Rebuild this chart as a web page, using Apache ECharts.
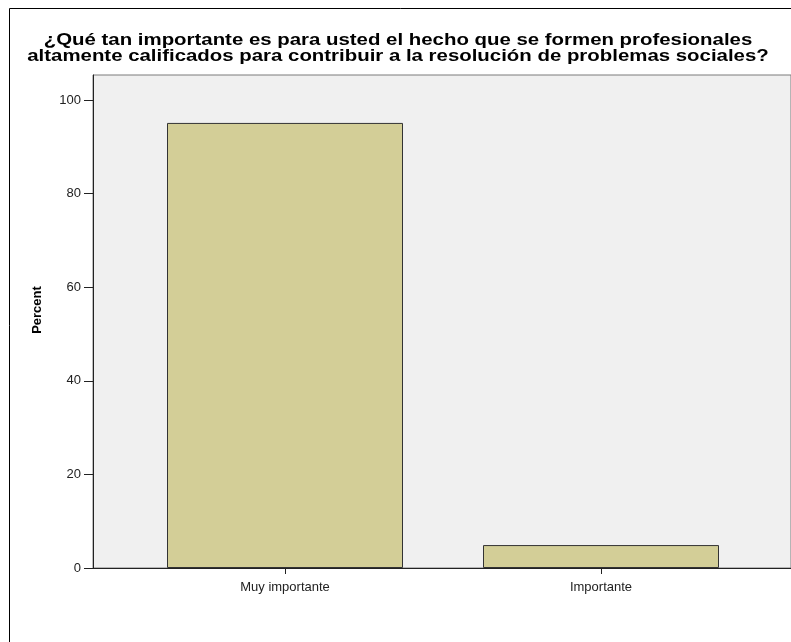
<!DOCTYPE html>
<html>
<head>
<meta charset="utf-8">
<script src="https://cdn.jsdelivr.net/npm/echarts@6/dist/echarts.min.js"></script>
<style>
  html, body { margin: 0; padding: 0; background: #fff; }
  #chart { width: 791px; height: 642px; }
</style>
</head>
<body>
<div id="chart"></div>
<script>
// datos del gráfico
const titleLines = [
  '¿Qué tan importante es para usted el hecho que se formen profesionales',
  'altamente calificados para contribuir a la resolución de problemas sociales?'
];
const categories = ['Muy importante', 'Importante'];
const percents = [95.1, 4.9];
const yTicks = { min: 0, max: 100, interval: 20 };

const FONT = '"Liberation Sans", Arial, sans-serif';
const chart = echarts.init(document.getElementById('chart'));

const option = {
  backgroundColor: '#ffffff',
  animation: false,
  graphic: [
    // marco exterior
    {
      type: 'rect',
      shape: { x: 9.5, y: 8.5, width: 800, height: 700 },
      style: { fill: 'none', stroke: '#000', lineWidth: 1 },
      z: 0
    },
    // título (texto algo ensanchado como en SPSS)
    {
      type: 'text',
      x: 398,
      y: 33,
      scaleX: 1.2,
      style: {
        text: titleLines.join('\n'),
        font: 'bold 17px ' + FONT,
        lineHeight: 15.5,
        fill: '#000',
        align: 'center',
        verticalAlign: 'top'
      }
    },
    {
      type: 'text',
      x: 37,
      y: 310,
      rotation: Math.PI / 2,
      style: {
        text: 'Percent',
        font: 'bold 13px ' + FONT,
        fill: '#000',
        align: 'center',
        verticalAlign: 'middle'
      }
    }
  ],
  grid: [
    // fondo gris del área de trazado
    {
      left: 93, top: 75, width: 700, height: 493,
      show: true,
      backgroundColor: '#f0f0f0',
      borderColor: '#7a7a7a',
      borderWidth: 1
    },
    // barras
    { left: 127, top: 100, width: 632, height: 468 }
  ],
  xAxis: [
    {
      gridIndex: 0, type: 'value', min: 0, max: 1,
      axisLine: { show: true, lineStyle: { color: '#222', width: 1 } },
      axisTick: { show: false }, axisLabel: { show: false }, splitLine: { show: false }
    },
    {
      gridIndex: 1, type: 'category', data: categories,
      axisLine: { show: false },
      axisTick: { show: true, alignWithLabel: true, length: 6, lineStyle: { color: '#222' } },
      axisLabel: { fontFamily: FONT, fontSize: 13, color: '#222', margin: 13 },
      splitLine: { show: false }
    }
  ],
  yAxis: [
    {
      gridIndex: 0, type: 'value', min: 0, max: 1,
      axisLine: { show: true, lineStyle: { color: '#222', width: 1 } },
      axisTick: { show: false }, axisLabel: { show: false }, splitLine: { show: false }
    },
    {
      gridIndex: 1, type: 'value',
      min: yTicks.min, max: yTicks.max, interval: yTicks.interval,
      offset: 34,
      axisLine: { show: false },
      axisTick: { show: true, length: 9, lineStyle: { color: '#222' } },
      axisLabel: { fontFamily: FONT, fontSize: 13, color: '#222', margin: 12 },
      splitLine: { show: false }
    }
  ],
  series: [{
    type: 'bar',
    xAxisIndex: 1,
    yAxisIndex: 1,
    data: percents,
    barWidth: 236,
    itemStyle: { color: '#d3ce97', borderColor: '#333', borderWidth: 1 }
  }]
};

chart.setOption(option);
</script>
</body>
</html>
